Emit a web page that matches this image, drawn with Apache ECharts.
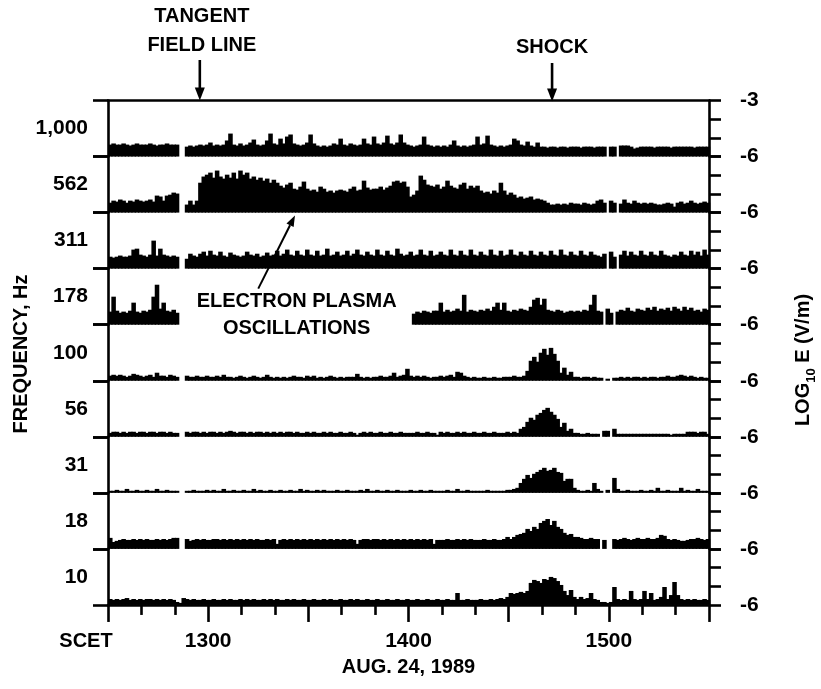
<!DOCTYPE html>
<html>
<head>
<meta charset="utf-8">
<script src="https://cdn.jsdelivr.net/npm/echarts@6/dist/echarts.min.js"></script>
<style>
html,body{margin:0;padding:0;background:#fff;}
#main{width:821px;height:689px;}
</style>
</head>
<body>
<div id="main"></div>
<script>
// ---- DATA -----------------------------------------------------------
// Time axis: minutes of day (SCET), 1-minute bins from 12:30 to 15:30
const startMinute = 750;
const endMinute = 930;
const xTickValues = [780, 840, 900];
const xTickLabels = ['1300', '1400', '1500'];
const channels = ['1,000', '562', '311', '178', '100', '56', '31', '18', '10'];
const logMin = -6, logMax = -3;

// log10 E (V/m) per 1-minute bin; null = no data
const f1000 = [
-5.36,-5.30,-5.36,-5.36,-5.30,-5.36,-5.41,-5.36,-5.30,-5.36,
-5.36,-5.36,-5.30,-5.36,-5.41,-5.36,-5.36,-5.30,-5.36,-5.36,
-5.36,null,null,-5.47,-5.41,-5.47,-5.41,-5.36,-5.41,-5.36,
-5.25,-5.41,-5.36,-5.41,-5.36,-5.14,-4.77,-5.36,-5.41,-5.30,
-5.41,-5.36,-5.25,-5.09,-5.36,-5.41,-5.36,-5.14,-4.77,-5.30,
-5.36,-5.04,-5.30,-4.93,-4.82,-5.30,-5.36,-5.41,-5.36,-5.25,
-4.82,-5.30,-5.41,-5.47,-5.41,-5.47,-5.41,-5.30,-5.36,-5.04,
-5.36,-5.41,-5.30,-5.36,-5.41,-5.36,-5.04,-5.30,-5.36,-4.93,
-5.30,-5.36,-5.25,-4.88,-5.30,-5.36,-5.25,-4.82,-5.25,-5.36,
-5.41,-5.47,-5.41,-5.36,-4.93,-5.36,-5.41,-5.47,-5.41,-5.47,
-5.41,-5.47,-5.36,-5.14,-5.41,-5.47,-5.41,-5.47,-5.41,-5.36,
-4.93,-5.36,-5.30,-4.88,-5.36,-5.41,-5.47,-5.41,-5.47,-5.41,
-5.36,-5.04,-5.14,-5.36,-5.41,-5.20,-5.41,-5.47,-5.25,-5.47,
-5.47,-5.52,-5.47,-5.47,-5.52,-5.47,-5.47,-5.52,-5.47,-5.47,
-5.47,-5.52,-5.47,-5.47,-5.47,-5.52,-5.47,-5.47,-5.47,null,
-5.47,-5.47,null,-5.41,-5.41,-5.41,-5.47,-5.57,-5.52,-5.47,
-5.47,-5.47,-5.47,-5.52,-5.47,-5.47,-5.47,-5.47,-5.52,-5.47,
-5.47,-5.47,-5.47,-5.47,-5.47,-5.52,-5.47,-5.47,-5.47,-5.47
];
const f562 = [
-5.47,-5.36,-5.41,-5.30,-5.36,-5.47,-5.36,-5.41,-5.30,-5.36,
-5.41,-5.36,-5.30,-5.41,-5.09,-5.14,-5.36,-5.09,-5.04,-4.93,
-4.98,null,null,-5.57,-5.36,-5.57,-5.36,-4.40,-4.07,-3.97,
-3.86,-4.13,-3.75,-4.07,-4.18,-3.97,-4.13,-3.86,-4.18,-3.75,
-3.97,-3.86,-4.18,-4.07,-4.24,-4.13,-4.29,-4.18,-4.40,-4.24,
-4.40,-4.56,-4.66,-4.50,-4.40,-4.72,-4.77,-4.61,-4.34,-4.72,
-4.82,-4.77,-4.88,-4.61,-4.72,-4.88,-4.82,-4.93,-4.82,-4.77,
-4.82,-4.88,-4.72,-4.61,-4.82,-4.77,-4.29,-4.66,-4.77,-4.72,
-4.72,-4.61,-4.77,-4.66,-4.56,-4.34,-4.29,-4.40,-4.34,-4.61,
-5.14,-5.04,-4.82,-4.02,-4.24,-4.50,-4.56,-4.61,-4.50,-4.72,
-4.61,-4.29,-4.56,-4.66,-4.72,-4.50,-4.40,-4.72,-4.56,-4.66,
-4.56,-4.82,-4.93,-4.88,-4.98,-4.82,-4.93,-4.40,-4.82,-5.04,
-4.93,-5.04,-5.20,-5.14,-5.25,-5.20,-5.14,-5.30,-5.25,-5.30,
-5.36,-5.47,-5.57,-5.57,-5.52,-5.57,-5.52,-5.57,-5.47,-5.52,
-5.52,-5.57,-5.47,-5.52,-5.57,-5.52,-5.36,-5.30,-5.47,null,
-5.36,-5.47,null,-5.52,-5.30,-5.47,-5.52,-5.36,-5.47,-5.52,
-5.47,-5.52,-5.47,-5.52,-5.57,-5.57,-5.52,-5.47,-5.52,-5.68,
-5.47,-5.41,-5.52,-5.47,-5.36,-5.47,-5.52,-5.47,-5.41,-5.47
];
const f311 = [
-5.36,-5.41,-5.36,-5.30,-5.36,-5.36,-5.30,-4.98,-4.93,-5.25,
-5.30,-5.36,-5.25,-4.50,-5.30,-4.93,-5.25,-5.30,-5.36,-5.30,
-5.36,null,null,-5.47,-5.20,-5.30,-5.36,-5.20,-5.09,-5.30,
-5.04,-5.25,-5.30,-5.09,-5.30,-5.36,-5.14,-5.25,-5.30,-5.36,
-5.30,-5.09,-5.25,-5.30,-5.20,-5.36,-5.30,-5.14,-5.30,-5.25,
-5.04,-5.30,-5.20,-4.98,-5.25,-5.30,-5.04,-5.25,-5.30,-4.98,
-5.25,-5.30,-5.04,-5.30,-5.25,-4.93,-5.30,-5.25,-5.09,-5.30,
-5.25,-5.04,-5.30,-5.20,-4.98,-5.25,-5.30,-5.09,-5.25,-5.30,
-4.98,-5.25,-5.30,-5.04,-5.25,-5.30,-4.93,-5.20,-5.30,-5.25,
-5.09,-5.30,-5.25,-4.98,-5.25,-5.30,-5.04,-5.30,-5.25,-5.09,
-5.25,-5.30,-4.98,-5.25,-5.30,-5.04,-5.25,-5.30,-4.98,-5.25,
-5.30,-5.09,-5.25,-5.30,-4.98,-5.25,-5.30,-5.04,-5.30,-5.25,
-4.98,-5.25,-5.30,-5.09,-5.25,-5.30,-5.04,-5.25,-5.30,-5.09,
-5.25,-5.30,-5.04,-5.25,-5.30,-4.98,-5.25,-5.30,-5.09,-5.25,
-5.30,-5.04,-5.25,-5.30,-5.09,-5.25,-5.30,-5.36,-5.20,null,
-5.09,-5.36,null,-5.25,-5.04,-5.30,-5.09,-5.25,-5.30,-5.04,
-5.25,-5.30,-5.09,-5.25,-5.30,-5.04,-5.25,-5.30,-5.36,-5.25,
-5.30,-5.09,-5.25,-5.30,-5.04,-5.25,-5.09,-5.30,-4.98,-5.25
];
const f178 = [
-5.30,-4.50,-5.25,-5.36,-5.30,-5.36,-5.25,-4.82,-5.30,-5.36,
-5.25,-5.30,-5.20,-4.50,-3.86,-5.14,-4.82,-5.25,-5.30,-5.20,
-5.36,null,null,null,null,null,null,null,null,null,
null,null,null,null,null,null,null,null,null,null,
null,null,null,null,null,null,null,null,null,null,
null,null,null,null,null,null,null,null,null,null,
null,null,null,null,null,null,null,null,null,null,
null,null,null,null,null,null,null,null,null,null,
null,null,null,null,null,null,null,null,null,null,
null,-5.41,-5.30,-5.36,-5.25,-5.30,-5.36,-5.25,-5.25,-4.82,
-5.30,-5.20,-5.30,-5.25,-5.14,-5.25,-4.40,-5.30,-5.20,-5.25,
-5.30,-5.20,-5.25,-5.14,-5.25,-5.04,-4.82,-5.20,-4.82,-5.25,
-5.30,-5.20,-5.25,-5.14,-5.20,-5.25,-5.04,-4.66,-4.56,-4.93,
-4.61,-5.20,-5.25,-5.30,-5.20,-5.25,-5.36,-5.30,-5.25,-5.30,
-5.25,-5.30,-5.20,-5.25,-4.93,-4.40,-5.25,-5.30,null,-5.14,
-5.36,null,-5.30,-5.20,-5.25,-5.09,-5.25,-5.30,-5.14,-5.20,
-5.25,-5.09,-5.20,-5.04,-5.25,-5.14,-5.20,-5.09,-5.25,-5.04,
-5.14,-5.25,-5.04,-5.20,-5.09,-5.25,-5.20,-5.30,-5.14,-5.20
];
const f100 = [
-5.73,-5.68,-5.73,-5.68,-5.73,-5.79,-5.73,-5.63,-5.68,-5.73,
-5.79,-5.73,-5.68,-5.79,-5.57,-5.73,-5.73,-5.79,-5.68,-5.73,
-5.79,null,null,-5.73,-5.79,-5.79,-5.73,-5.79,-5.79,-5.73,
-5.79,-5.79,-5.73,-5.79,-5.68,-5.79,-5.79,-5.84,-5.79,-5.73,
-5.79,-5.84,-5.79,-5.73,-5.79,-5.84,-5.79,-5.68,-5.79,-5.84,
-5.79,-5.84,-5.79,-5.84,-5.79,-5.73,-5.79,-5.79,-5.84,-5.73,
-5.79,-5.73,-5.84,-5.79,-5.84,-5.79,-5.73,-5.79,-5.84,-5.79,
-5.84,-5.79,-5.79,-5.79,-5.63,-5.79,-5.84,-5.79,-5.84,-5.79,
-5.79,-5.73,-5.79,-5.79,-5.73,-5.57,-5.79,-5.73,-5.68,-5.36,
-5.73,-5.79,-5.73,-5.79,-5.73,-5.79,-5.84,-5.79,-5.79,-5.73,
-5.79,-5.73,-5.68,-5.79,-5.52,-5.57,-5.73,-5.79,-5.84,-5.79,
-5.84,-5.84,-5.79,-5.84,-5.84,-5.79,-5.84,-5.84,-5.79,-5.79,
-5.79,-5.73,-5.79,-5.79,-5.73,-5.47,-4.93,-4.72,-4.98,-4.50,
-4.29,-4.61,-4.24,-4.56,-4.93,-5.57,-5.30,-5.68,-5.52,-5.79,
-5.79,-5.84,-5.79,-5.79,-5.84,-5.79,-5.84,-5.84,null,-5.89,
null,-5.84,-5.84,-5.79,-5.84,-5.79,-5.84,-5.79,-5.79,-5.84,
-5.79,-5.84,-5.79,-5.79,-5.84,-5.79,-5.79,-5.73,-5.79,-5.79,
-5.73,-5.68,-5.73,-5.79,-5.73,-5.79,-5.84,-5.79,-5.84,-5.84
];
const f56 = [
-5.79,-5.73,-5.73,-5.79,-5.73,-5.79,-5.73,-5.73,-5.79,-5.73,
-5.73,-5.79,-5.73,-5.73,-5.79,-5.73,-5.73,-5.79,-5.73,-5.79,
-5.79,null,null,-5.73,-5.79,-5.73,-5.73,-5.79,-5.73,-5.79,
-5.73,-5.73,-5.79,-5.73,-5.79,-5.73,-5.68,-5.73,-5.79,-5.73,
-5.73,-5.79,-5.73,-5.79,-5.73,-5.73,-5.79,-5.73,-5.79,-5.73,
-5.79,-5.73,-5.79,-5.73,-5.73,-5.79,-5.73,-5.79,-5.79,-5.73,
-5.79,-5.73,-5.79,-5.79,-5.73,-5.79,-5.73,-5.79,-5.79,-5.73,
-5.79,-5.79,-5.73,-5.79,-5.89,-5.79,-5.73,-5.79,-5.73,-5.79,
-5.79,-5.73,-5.79,-5.79,-5.73,-5.79,-5.79,-5.73,-5.79,-5.79,
-5.79,-5.79,-5.73,-5.79,-5.79,-5.73,-5.79,-5.79,-5.89,-5.73,
-5.79,-5.73,-5.79,-5.79,-5.73,-5.79,-5.73,-5.79,-5.79,-5.73,
-5.79,-5.79,-5.73,-5.79,-5.79,-5.73,-5.79,-5.79,-5.79,-5.73,
-5.79,-5.73,-5.79,-5.57,-5.47,-5.20,-4.98,-5.09,-4.82,-4.72,
-4.56,-4.45,-4.66,-4.82,-5.04,-5.47,-5.25,-5.68,-5.57,-5.79,
-5.79,-5.84,-5.84,-5.79,-5.84,-5.84,-5.84,null,-5.68,-5.68,
null,-5.57,-5.84,-5.84,-5.84,-5.84,-5.84,-5.84,-5.84,-5.84,
-5.84,-5.84,-5.84,-5.84,-5.84,-5.84,-5.84,-5.84,-5.89,-5.84,
-5.84,-5.84,-5.84,-5.73,-5.73,-5.73,-5.79,-5.73,-5.73,-5.84
];
const f31 = [
-5.89,-5.89,-5.84,-5.89,-5.89,-5.79,-5.89,-5.89,-5.84,-5.89,
-5.89,-5.84,-5.89,-5.89,-5.79,-5.89,-5.89,-5.84,-5.89,-5.89,
-5.89,null,null,-5.89,-5.89,-5.84,-5.89,-5.89,-5.89,-5.84,
-5.89,-5.84,-5.89,-5.89,-5.79,-5.89,-5.89,-5.84,-5.89,-5.89,
-5.84,-5.89,-5.89,-5.79,-5.89,-5.84,-5.89,-5.89,-5.84,-5.89,
-5.89,-5.84,-5.89,-5.89,-5.84,-5.89,-5.89,-5.79,-5.89,-5.84,
-5.89,-5.89,-5.84,-5.89,-5.84,-5.89,-5.89,-5.89,-5.84,-5.89,
-5.89,-5.84,-5.89,-5.89,-5.89,-5.84,-5.89,-5.79,-5.89,-5.89,
-5.84,-5.89,-5.89,-5.84,-5.89,-5.89,-5.84,-5.89,-5.89,-5.89,
-5.84,-5.89,-5.89,-5.84,-5.89,-5.89,-5.84,-5.89,-5.89,-5.89,
-5.89,-5.84,-5.89,-5.89,-5.79,-5.89,-5.89,-5.84,-5.89,-5.89,
-5.89,-5.89,-5.89,-5.84,-5.89,-5.89,-5.89,-5.89,-5.89,-5.84,
-5.84,-5.79,-5.73,-5.47,-5.25,-5.04,-5.20,-4.98,-4.88,-4.77,
-4.66,-4.82,-4.77,-4.66,-4.88,-4.93,-5.36,-5.25,-5.25,-5.73,
-5.84,-5.89,-5.89,-5.84,-5.89,-5.47,-5.79,-5.89,null,-5.84,
null,-5.20,-5.79,-5.89,-5.89,-5.84,-5.89,-5.89,-5.89,-5.84,
-5.89,-5.89,-5.84,-5.89,-5.73,-5.89,-5.89,-5.84,-5.89,-5.89,
-5.89,-5.73,-5.89,-5.84,-5.89,-5.89,-5.79,-5.89,-5.89,-5.89
];
const f18 = [
-5.41,-5.63,-5.57,-5.52,-5.47,-5.52,-5.52,-5.47,-5.52,-5.47,
-5.52,-5.47,-5.52,-5.52,-5.47,-5.52,-5.47,-5.52,-5.47,-5.41,
-5.41,null,null,-5.47,-5.57,-5.52,-5.47,-5.52,-5.47,-5.52,
-5.52,-5.47,-5.47,-5.52,-5.47,-5.52,-5.47,-5.52,-5.47,-5.52,
-5.47,-5.52,-5.47,-5.52,-5.47,-5.52,-5.52,-5.47,-5.52,-5.47,
-5.73,-5.52,-5.47,-5.52,-5.47,-5.52,-5.47,-5.52,-5.47,-5.52,
-5.47,-5.52,-5.47,-5.52,-5.47,-5.52,-5.47,-5.52,-5.47,-5.52,
-5.47,-5.52,-5.47,-5.52,-5.73,-5.52,-5.47,-5.47,-5.52,-5.47,
-5.47,-5.52,-5.47,-5.52,-5.47,-5.52,-5.47,-5.52,-5.47,-5.52,
-5.47,-5.52,-5.47,-5.52,-5.47,-5.52,-5.47,-5.73,-5.52,-5.52,
-5.52,-5.47,-5.52,-5.52,-5.47,-5.52,-5.47,-5.52,-5.47,-5.52,
-5.52,-5.52,-5.47,-5.52,-5.52,-5.47,-5.52,-5.52,-5.47,-5.36,
-5.47,-5.36,-5.25,-5.20,-5.14,-4.93,-5.04,-4.82,-4.93,-4.61,
-4.50,-4.40,-4.72,-4.50,-4.82,-4.93,-5.14,-5.25,-5.20,-5.36,
-5.36,-5.41,-5.47,-5.47,-5.41,-5.47,-5.47,null,-5.52,null,
null,-5.47,-5.52,-5.47,-5.41,-5.47,-5.52,-5.47,-5.41,-5.47,
-5.47,-5.41,-5.47,-5.47,-5.41,-5.25,-5.30,-5.47,-5.52,-5.47,
-5.52,-5.57,-5.57,-5.52,-5.47,-5.47,-5.41,-5.47,-5.52,-5.47
];
const f10 = [
-5.68,-5.73,-5.68,-5.73,-5.68,-5.63,-5.73,-5.68,-5.73,-5.68,
-5.73,-5.68,-5.68,-5.73,-5.68,-5.73,-5.68,-5.73,-5.68,-5.73,
-5.84,-5.89,-5.63,-5.68,-5.73,-5.68,-5.73,-5.73,-5.68,-5.73,
-5.73,-5.68,-5.73,-5.73,-5.68,-5.73,-5.68,-5.73,-5.73,-5.68,
-5.73,-5.68,-5.73,-5.68,-5.73,-5.73,-5.68,-5.73,-5.68,-5.73,
-5.68,-5.73,-5.73,-5.68,-5.73,-5.68,-5.73,-5.73,-5.68,-5.73,
-5.73,-5.68,-5.73,-5.73,-5.68,-5.73,-5.68,-5.73,-5.73,-5.68,
-5.73,-5.73,-5.68,-5.73,-5.68,-5.73,-5.73,-5.68,-5.73,-5.73,
-5.68,-5.73,-5.73,-5.68,-5.73,-5.73,-5.68,-5.73,-5.73,-5.68,
-5.73,-5.73,-5.68,-5.73,-5.73,-5.68,-5.73,-5.73,-5.68,-5.73,
-5.73,-5.68,-5.73,-5.73,-5.36,-5.73,-5.73,-5.68,-5.73,-5.73,
-5.73,-5.68,-5.73,-5.73,-5.68,-5.73,-5.68,-5.63,-5.68,-5.57,
-5.36,-5.41,-5.36,-5.30,-5.36,-5.25,-4.82,-4.66,-4.72,-4.82,
-4.61,-4.66,-4.50,-4.56,-4.72,-4.93,-5.25,-5.47,-5.20,-5.57,
-5.68,-5.57,-5.68,-5.63,-5.36,-5.68,-5.73,-5.84,-5.84,-5.89,
-5.84,-5.04,-5.68,-5.73,-5.68,-5.73,-5.25,-5.68,-5.73,-5.68,
-5.25,-5.68,-5.36,-5.73,-5.68,-5.57,-5.04,-5.68,-5.47,-4.77,
-5.47,-5.68,-5.73,-5.68,-5.73,-5.68,-5.73,-5.73,-5.68,-5.73
];
const panelValues = [f1000, f562, f311, f178, f100, f56, f31, f18, f10];

// annotations (data units)
const tangentMinute = 777.5;
const shockMinute = 883;
const plasmaArrow = { tailPanel: 3, tailMinute: 795, tailLog: -4.07, tipPanel: 1, tipMinute: 806, tipLog: -6.15 };
const plasmaLabel = { panel: 3, minute: 806.5, log: -5.49 };

// ---- LAYOUT ---------------------------------------------------------
const FONT = '"Liberation Sans", Arial, sans-serif';
const FW = 'bold';
const gridLeft = 108, gridWidth = 601, gridTop = 100.5, panelH = 56.05;
const AX = { color: '#000', width: 2.6 };

const grids = [], xAxes = [], yAxes = [], series = [];
const nP = channels.length;

function renderItem(params, api) {
  const t = api.value(0), v = api.value(1);
  if (v == null || isNaN(v)) return null;
  const p0 = api.coord([t, v]);
  const p1 = api.coord([t + 1, logMin]);
  // slight overlap into the next bin avoids anti-aliasing seams
  return {
    type: 'rect',
    shape: { x: p0[0], y: p0[1], width: p1[0] - p0[0] + 1.2, height: p1[1] - p0[1] },
    style: { fill: '#000' }
  };
}

for (let k = 0; k < nP; k++) {
  const last = k === nP - 1;
  grids.push({ left: gridLeft, width: gridWidth, top: gridTop + k * panelH, height: panelH, containLabel: false, outerBoundsMode: 'none' });
  xAxes.push({
    type: 'value', gridIndex: k, position: 'bottom', min: startMinute, max: endMinute, interval: 30,
    axisLine: { show: last, onZero: false, lineStyle: AX },
    axisTick: { show: last, length: 17, lineStyle: AX },
    minorTick: { show: last, splitNumber: 3, length: 10, lineStyle: AX },
    axisLabel: {
      show: last, margin: 26, fontSize: 21, fontWeight: FW, color: '#000', fontFamily: FONT,
      showMinLabel: true, showMaxLabel: true,
      formatter: function (v) { const i = xTickValues.indexOf(v); return i >= 0 ? xTickLabels[i] : ''; }
    },
    splitLine: { show: false }, minorSplitLine: { show: false },
    name: last ? 'AUG. 24, 1989' : '', nameLocation: 'middle', nameGap: 53,
    nameTextStyle: { fontSize: 20, fontWeight: FW, color: '#000', fontFamily: FONT }
  });
  yAxes.push({
    type: 'value', gridIndex: k, position: 'left', min: logMin, max: logMax, interval: 3,
    axisLine: { show: true, onZero: false, lineStyle: AX },
    axisTick: { show: true, length: 15, lineStyle: AX },
    axisLabel: { show: false }, splitLine: { show: false },
    name: channels[k], nameLocation: 'middle', nameRotate: 0, nameGap: 20,
    nameTextStyle: { fontSize: 21, fontWeight: FW, color: '#000', fontFamily: FONT, align: 'right', verticalAlign: 'middle', padding: [4, 0, 0, 0] }
  });
  yAxes.push({
    type: 'value', gridIndex: k, position: 'right', min: logMin, max: logMax, interval: 1,
    axisLine: { show: true, onZero: false, lineStyle: AX },
    axisTick: { show: true, length: 12, lineStyle: AX },
    axisLabel: {
      show: true, margin: 31, fontSize: 21, fontWeight: FW, color: '#000', fontFamily: FONT,
      showMinLabel: true, showMaxLabel: true,
      formatter: (function (kk) { return function (v) { if (v === logMin) return '-6'; if (kk === 0 && v === logMax) return '-3'; return ''; }; })(k)
    },
    splitLine: { show: false }
  });
  const vals = panelValues[k];
  const data = [];
  for (let i = 0; i < vals.length; i++) {
    if (vals[i] !== null) data.push([startMinute + i, vals[i]]);
  }
  series.push({
    type: 'custom', name: channels[k], xAxisIndex: k, yAxisIndex: 2 * k,
    renderItem: renderItem, data: data, silent: true, animation: false,
    encode: { x: 0, y: 1 }
  });
}
// top frame line
xAxes.push({
  type: 'value', gridIndex: 0, position: 'top', min: startMinute, max: endMinute,
  axisLine: { show: true, onZero: false, lineStyle: AX },
  axisTick: { show: false }, axisLabel: { show: false }, splitLine: { show: false }
});

const chart = echarts.init(document.getElementById('main'), null, { renderer: 'canvas' });
chart.setOption({
  backgroundColor: '#fff',
  animation: false,
  textStyle: { fontFamily: FONT, color: '#000', fontWeight: FW },
  grid: grids, xAxis: xAxes, yAxis: yAxes, series: series
});

// ---- ANNOTATIONS ----------------------------------------------------
function pt(panel, minute, logv) {
  return chart.convertToPixel({ xAxisIndex: panel, yAxisIndex: 2 * panel }, [minute, logv]);
}
function downArrow(x, y0, y1) {
  return [
    { type: 'line', shape: { x1: x, y1: y0, x2: x, y2: y1 - 8 }, style: { stroke: '#000', lineWidth: 2.6 } },
    { type: 'polygon', shape: { points: [[x - 5, y1 - 13], [x + 5, y1 - 13], [x, y1]] }, style: { fill: '#000' } }
  ];
}
const TF = FW + ' 20px ' + FONT;
const topY = pt(0, startMinute, logMax)[1];
const tx = pt(0, tangentMinute, logMax)[0];
const sx = pt(0, shockMinute, logMax)[0];
const tail = pt(plasmaArrow.tailPanel, plasmaArrow.tailMinute, plasmaArrow.tailLog);
const tip = pt(plasmaArrow.tipPanel, plasmaArrow.tipMinute, plasmaArrow.tipLog);
const dx = tip[0] - tail[0], dy = tip[1] - tail[1], L = Math.sqrt(dx * dx + dy * dy);
const ux = dx / L, uy = dy / L;
const hb = [tip[0] - ux * 11, tip[1] - uy * 11];
const lab = pt(plasmaLabel.panel, plasmaLabel.minute, plasmaLabel.log);
const bottomLeft = pt(nP - 1, startMinute, logMin);

const graphics = [].concat(
  [{ type: 'text', x: tx + 2, y: 31, style: { text: 'TANGENT\nFIELD LINE', font: TF, fill: '#000', align: 'center', verticalAlign: 'middle', lineHeight: 29 } }],
  downArrow(tx, 60, topY),
  [{ type: 'text', x: sx, y: 47, style: { text: 'SHOCK', font: TF, fill: '#000', align: 'center', verticalAlign: 'middle' } }],
  downArrow(sx, 63, topY + 1),
  [
    { type: 'line', shape: { x1: tail[0], y1: tail[1], x2: hb[0], y2: hb[1] }, style: { stroke: '#000', lineWidth: 2 } },
    { type: 'polygon', shape: { points: [[tip[0], tip[1]], [hb[0] - uy * 4, hb[1] + ux * 4], [hb[0] + uy * 4, hb[1] - ux * 4]] }, style: { fill: '#000' } },
    { type: 'text', x: lab[0], y: lab[1], style: { text: 'ELECTRON PLASMA\nOSCILLATIONS', font: TF, fill: '#000', align: 'center', verticalAlign: 'middle', lineHeight: 27 } },
    { type: 'text', x: bottomLeft[0] - 22, y: bottomLeft[1] + 37, style: { text: 'SCET', font: TF, fill: '#000', align: 'center', verticalAlign: 'middle' } },
    { type: 'text', x: 21, y: 354, rotation: Math.PI / 2, style: { text: 'FREQUENCY, Hz', font: TF, fill: '#000', align: 'center', verticalAlign: 'middle' } },
    { type: 'text', x: 803, y: 360, rotation: Math.PI / 2, style: {
        text: '{a|LOG}{s|10}{a| E (V/m)}', align: 'center', verticalAlign: 'middle',
        rich: {
          a: { fontSize: 20, fontWeight: FW, fontFamily: FONT, fill: '#000', color: '#000', lineHeight: 30 },
          s: { fontSize: 13, fontWeight: FW, fontFamily: FONT, fill: '#000', color: '#000', lineHeight: 14, verticalAlign: 'bottom' }
        } } }
  ]
);
chart.setOption({ graphic: graphics });
</script>
</body>
</html>
